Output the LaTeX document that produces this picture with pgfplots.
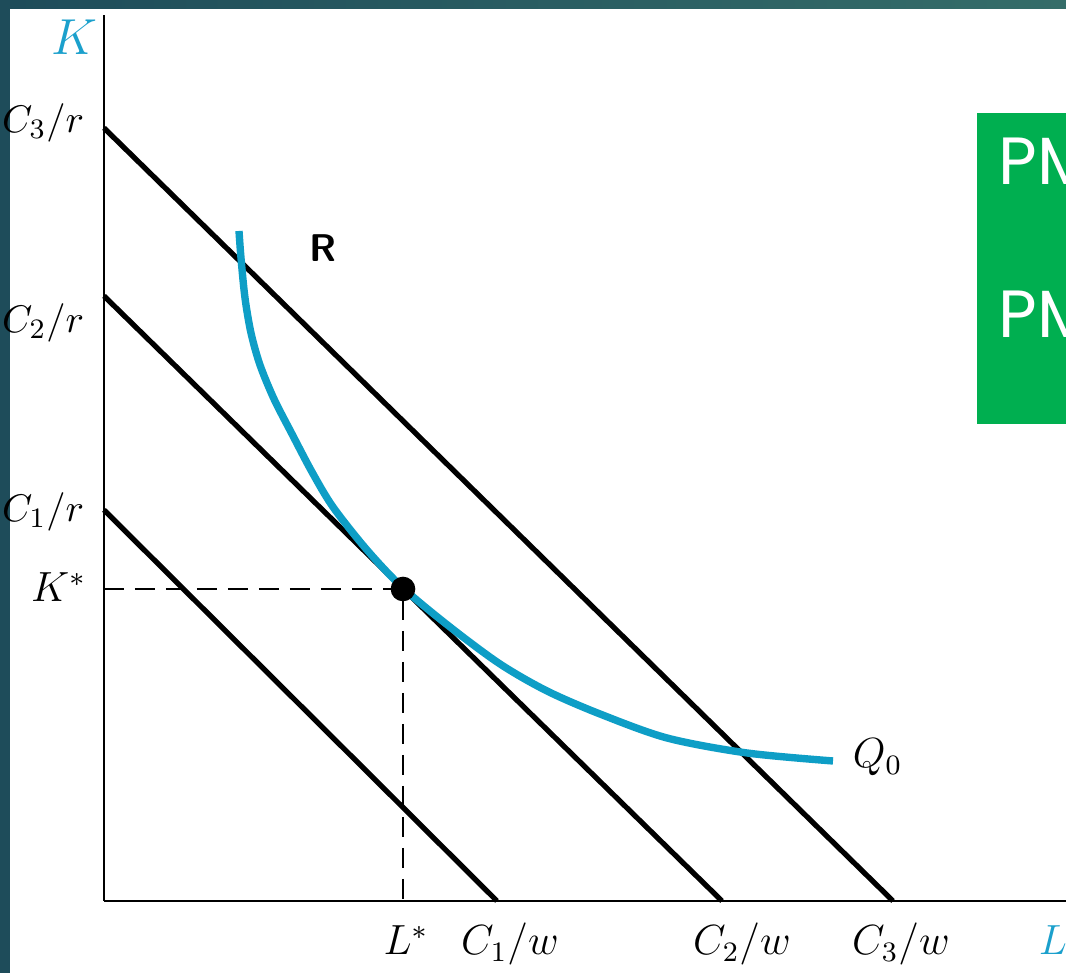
\documentclass[border=0pt]{standalone}
\usepackage{pgfplots}
\pgfplotsset{compat=1.18}
\usepackage{fontspec}
\newfontfamily\pmfont{Poppins}
\definecolor{frameL}{HTML}{1E4C5A}
\definecolor{bandR}{HTML}{356D69}
\definecolor{iso}{HTML}{0E9EC6}
\definecolor{axlbl}{HTML}{1BA0CC}
\definecolor{boxgreen}{HTML}{00AF50}
\tikzset{lbl/.style={inner sep=0pt, outer sep=0pt, font=\fontsize{12}{14}\selectfont},
         ylbl/.style={lbl, font=\fontsize{11}{13}\selectfont}}
\begin{document}
\begin{tikzpicture}[x=0.1mm,y=0.1mm]
\useasboundingbox (0,0) rectangle (1066,973);
% slide frame
\fill[frameL] (0,0) rectangle (1066,973);
\shade[left color=frameL, right color=bandR] (10,964) rectangle (1066,973);
\fill[white] (10,0) rectangle (1066,964);
% green note box, running off the right edge
\begin{scope}
\clip (0,0) rectangle (1066,973);
\fill[boxgreen] (977,549) rectangle (1090,860);
\node[anchor=base west, white, inner sep=0, font=\pmfont\fontsize{19}{21}\selectfont] at (998,788) {PM};
\node[anchor=base west, white, inner sep=0, font=\pmfont\fontsize{19}{21}\selectfont] at (998,635) {PM};
\end{scope}
\begin{axis}[
  at={(10.4mm,7.2mm)}, anchor=south west,
  scale only axis, width=96.2mm, height=88.6mm,
  xmin=0, xmax=962, ymin=0, ymax=886,
  axis lines=left, axis line style={-, line width=0.7pt},
  xtick=\empty, ytick=\empty, clip=false,
]
% isocost lines
\addplot[black, line width=1.5pt] coordinates {(0,773) (789,0)};
\addplot[black, line width=1.5pt] coordinates {(0,605) (618,0)};
\addplot[black, line width=1.5pt] coordinates {(0,391) (393,0)};
% isoquant Q0
\addplot[iso, line width=2.1pt, smooth, line cap=butt] coordinates {
 (135,670) (137,643) (141,603) (147,568) (156,536) (170,502) (188,467)
 (208,429) (229,394) (263,351) (299,313) (346,274) (396,237) (443,210)
 (496,187) (563,163) (643,148) (729,140)};
% optimum and guides
\addplot[black, line width=0.6pt, dash pattern=on 2mm off 1.1mm] coordinates {(0,312) (299,312) (299,0)};
\addplot[black, only marks, mark=*, mark size=3.3pt] coordinates {(299,312)};
% labels
\node[ylbl, anchor=base east] at (axis cs:-20,768) {$C_3/r$};
\node[ylbl, anchor=base east] at (axis cs:-20,568) {$C_2/r$};
\node[ylbl, anchor=base east] at (axis cs:-20,379) {$C_1/r$};
\node[lbl, anchor=base east] at (axis cs:-18,299) {$K^*$};
\node[lbl, anchor=base] at (axis cs:302,-54) {$L^*$};
\node[lbl, anchor=base] at (axis cs:406,-54) {$C_1/w$};
\node[lbl, anchor=base] at (axis cs:638,-54) {$C_2/w$};
\node[lbl, anchor=base] at (axis cs:797,-54) {$C_3/w$};
\node[lbl, anchor=base, text=axlbl] at (axis cs:949,-54) {$L$};
\node[lbl, anchor=base, text=axlbl, font=\fontsize{14.5}{16}\selectfont] at (axis cs:-30,846) {$K$};
\node[lbl, anchor=base west] at (axis cs:749,133) {$Q_0$};
\node[lbl, font=\sffamily\bfseries\fontsize{11}{12}\selectfont] at (axis cs:219,653) {R};
\end{axis}
\end{tikzpicture}
\end{document}
